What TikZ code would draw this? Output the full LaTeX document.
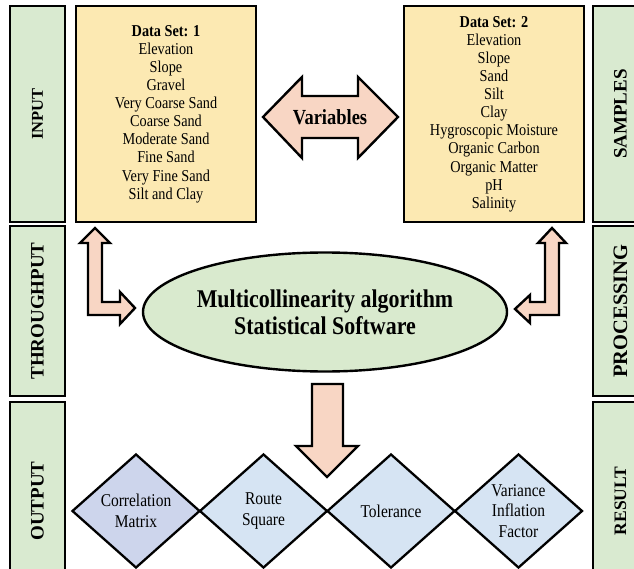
\documentclass[tikz,border=0pt]{standalone}
\usepackage{fontspec}
\setmainfont[FakeStretch=0.86]{Liberation Serif}
\newfontfamily\barfont{Liberation Serif}
\usetikzlibrary{shapes.geometric}
\definecolor{barfill}{RGB}{217,234,208}
\definecolor{setfill}{RGB}{252,233,178}
\definecolor{arrfill}{RGB}{248,214,196}
\definecolor{algfill}{RGB}{217,234,206}
\definecolor{diafill}{RGB}{214,228,243}
\definecolor{diafirst}{RGB}{205,213,236}

\begin{document}
\begin{tikzpicture}[x=1pt, y=-1pt,
  bar/.style={draw, line width=2.2pt, fill=barfill, rotate=90, minimum height=55pt, inner sep=0pt, font=\barfont\fontsize{19}{19}\selectfont\bfseries},
  setbox/.style={draw, line width=2.6pt, fill=setfill, minimum width=180pt, minimum height=216pt, align=center, inner sep=0pt, font=\fontsize{16.6}{18.1}\selectfont},
  blockarr/.style={draw, line width=2.4pt, fill=arrfill, line join=miter},
  alg/.style={ellipse, draw, line width=2.4pt, fill=algfill, minimum width=364pt, minimum height=119pt, align=center, inner sep=0pt, font=\fontsize{25.5}{27}\selectfont\bfseries},
  dia/.style={diamond, draw, line width=2.3pt, fill=diafill, minimum width=128pt, minimum height=114pt, align=center, inner sep=0pt, font=\fontsize{18}{20.5}\selectfont}
]
\clip (0,0) rectangle (634,569);

\node[bar, minimum width=216pt, font=\barfont\fontsize{16.5}{16.5}\selectfont\bfseries] (input) at (37.5,114) {INPUT};
\node[bar, minimum width=170pt] (through) at (37.5,311) {THROUGHPUT};
\node[bar, minimum width=198pt] (output) at (37.5,501) {OUTPUT};
\node[bar, minimum width=216pt] (samples) at (620.5,114) {SAMPLES};
\node[bar, minimum width=170pt, font=\barfont\fontsize{20.5}{20.5}\selectfont\bfseries] (process) at (620.5,311) {PROCESSING};
\node[bar, minimum width=198pt, font=\barfont\fontsize{17.5}{17.5}\selectfont\bfseries] (result) at (620.5,501) {RESULT};

\node[setbox] (set1) at (166,114) {\textbf{Data Set: 1}\\Elevation\\Slope\\Gravel\\Very Coarse Sand\\Coarse Sand\\Moderate Sand\\Fine Sand\\Very Fine Sand\\Silt and Clay};
\node[setbox] (set2) at (494,114) {\textbf{Data Set: 2}\\Elevation\\Slope\\Sand\\Silt\\Clay\\Hygroscopic Moisture\\Organic Carbon\\Organic Matter\\pH\\Salinity};

\node[alg] (algo) at (325,312) {Multicollinearity algorithm\\Statistical Software};

\node[dia, fill=diafirst] (corr) at (136,511) {Correlation\\Matrix};
\node[dia] (route) at (263.5,511) {Route\\Square};
\node[dia] (toler) at (391,511) {Tolerance};
\node[dia] (vif) at (518.5,511) {Variance\\Inflation\\Factor};

\draw[blockarr] (263,117) -- (302,77) -- (302,96) -- (358,96) -- (358,77) -- (398,117) -- (358,158) -- (358,138) -- (302,138) -- (302,158) -- cycle;
\node[font=\fontsize{21.5}{22}\selectfont\bfseries] (vars) at (330,117) {Variables};

\draw[blockarr] (95,228) -- (110,243) -- (102,243) -- (102,302) -- (120,302) -- (120,292) -- (135,308) -- (120,324) -- (120,315) -- (88,315) -- (88,243) -- (80,243) -- cycle;
\draw[blockarr] (552,228) -- (566,243) -- (559,243) -- (559,315) -- (530,315) -- (530,323) -- (515,309) -- (530,295) -- (530,302) -- (545,302) -- (545,243) -- (538,243) -- cycle;
\draw[blockarr] (312,384) -- (343,384) -- (343,446) -- (358,446) -- (327,477) -- (296,446) -- (312,446) -- cycle;
\end{tikzpicture}
\end{document}
